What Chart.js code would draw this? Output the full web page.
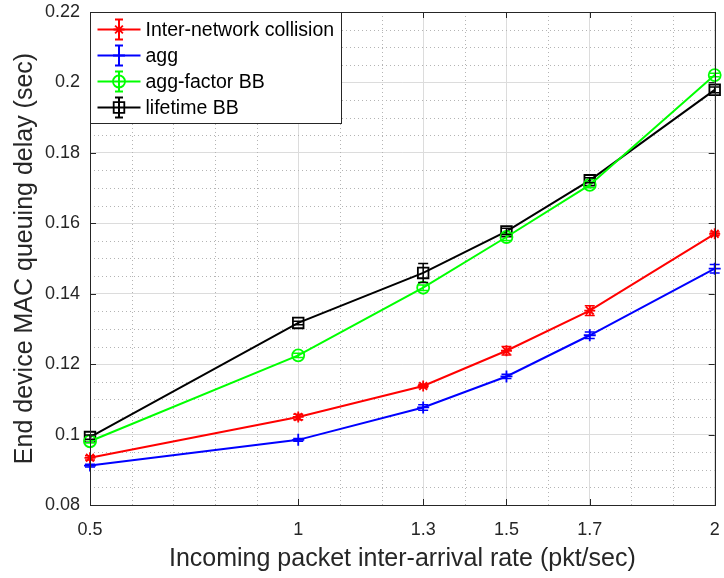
<!doctype html>
<html lang="en">
<head>
    <meta charset="utf-8">
    <title>MAC queuing delay</title>
    <script src="https://cdn.jsdelivr.net/npm/chart.js"></script>
    <style>
        body { margin: 0; background: #fff; }
        #wrap { width: 724px; height: 578px; }
    </style>
</head>
<body>
    <div id="wrap"><canvas id="myChart" width="724" height="578"></canvas></div>
    <script>
        // values
        var rates = [0.5, 1, 1.3, 1.5, 1.7, 2];
        var xTicks = [0.5, 1, 1.3, 1.5, 1.7, 2];
        var xMinor = [0.6, 0.7, 0.8, 0.9, 1.1, 1.2, 1.4, 1.6, 1.8, 1.9];
        var yMinorStep = 0.005;

        var collision = [0.0934, 0.1050, 0.1138, 0.1238, 0.1352, 0.1570];
        var collisionErr = [0.0006, 0.0008, 0.0005, 0.0012, 0.0014, 0.0005];

        var agg = [0.0912, 0.0985, 0.1077, 0.1165, 0.1282, 0.1471];
        var aggErr = [0.0004, 0.0004, 0.0008, 0.0006, 0.0009, 0.0012];

        var aggFactor = [0.0981, 0.1225, 0.1417, 0.1561, 0.1709, 0.2021];
        var aggFactorErr = [0.0004, 0.0006, 0.0008, 0.0010, 0.0008, 0.0005];

        var lifetime = [0.0993, 0.1317, 0.1459, 0.1577, 0.1722, 0.1979];
        var lifetimeErr = [0.0006, 0.0005, 0.0027, 0.0009, 0.0007, 0.0008];

        var seriesNames = ['Inter-network collision', 'agg', 'agg-factor BB', 'lifetime BB'];
        var seriesColors = ['#ff0000', '#0000ff', '#00ff00', '#000000'];
        var seriesMarkers = ['star', 'cross', 'circle', 'rect'];
        var markerSize = [5.5, 6, 6, 7.5];

        var FONT = "'Liberation Sans', Arial, sans-serif";
        Chart.defaults.font.family = FONT;
        Chart.defaults.color = '#262626';

        function toPoints(ys) {
            return rates.map((x, i) => ({ x: x, y: ys[i] }));
        }

        function makeSet(i, ys, errs) {
            return {
                label: seriesNames[i],
                data: toPoints(ys),
                errors: errs,
                borderColor: seriesColors[i],
                backgroundColor: seriesColors[i],
                borderWidth: 2,
                pointStyle: seriesMarkers[i],
                pointRadius: markerSize[i],
                pointBorderColor: seriesColors[i],
                pointBackgroundColor: 'rgba(0,0,0,0)',
                pointBorderWidth: 1.8,
                tension: 0,
                clip: false
            };
        }

        // small marker painter for the legend box
        function paintMarker(ctx, style, x, y, r) {
            ctx.beginPath();
            if (style === 'circle') {
                ctx.arc(x, y, r, 0, Math.PI * 2);
            } else if (style === 'rect') {
                var s = Math.SQRT1_2 * r;
                ctx.rect(x - s, y - s, 2 * s, 2 * s);
            } else if (style === 'cross') {
                ctx.moveTo(x - r, y); ctx.lineTo(x + r, y);
                ctx.moveTo(x, y - r); ctx.lineTo(x, y + r);
            } else {
                var d = r * Math.SQRT1_2;
                ctx.moveTo(x - r, y); ctx.lineTo(x + r, y);
                ctx.moveTo(x, y - r); ctx.lineTo(x, y + r);
                ctx.moveTo(x - d, y - d); ctx.lineTo(x + d, y + d);
                ctx.moveTo(x - d, y + d); ctx.lineTo(x + d, y - d);
            }
            ctx.stroke();
        }

        // dotted minor grid, under the data
        var minorGrid = {
            id: 'minorGrid',
            beforeDatasetsDraw(chart) {
                var ctx = chart.ctx, a = chart.chartArea;
                var xs = chart.scales.x, ys = chart.scales.y;
                ctx.save();
                ctx.strokeStyle = '#b4b4b4';
                ctx.lineWidth = 1;
                ctx.setLineDash([1, 3]);
                ctx.beginPath();
                xMinor.forEach(v => {
                    var px = Math.round(xs.getPixelForValue(v)) + 0.5;
                    ctx.moveTo(px, a.top); ctx.lineTo(px, a.bottom);
                });
                for (var v = ys.min + yMinorStep; v < ys.max - 1e-9; v += yMinorStep) {
                    var k = Math.round(v / yMinorStep);
                    if (k % 4 === 0) continue;
                    var py = Math.round(ys.getPixelForValue(v)) + 0.5;
                    ctx.moveTo(a.left, py); ctx.lineTo(a.right, py);
                }
                ctx.stroke();
                ctx.restore();
            }
        };

        var errorBars = {
            id: 'errorBars',
            afterDatasetsDraw(chart) {
                var ctx = chart.ctx;
                var ys = chart.scales.y;
                ctx.save();
                chart.data.datasets.forEach((ds, di) => {
                    var meta = chart.getDatasetMeta(di);
                    ctx.strokeStyle = ds.borderColor;
                    ctx.lineWidth = 1.5;
                    meta.data.forEach((pt, i) => {
                        var v = ds.data[i].y, e = ds.errors[i];
                        var top = ys.getPixelForValue(v + e);
                        var bot = ys.getPixelForValue(v - e);
                        ctx.beginPath();
                        ctx.moveTo(pt.x, top); ctx.lineTo(pt.x, bot);
                        ctx.moveTo(pt.x - 5, top); ctx.lineTo(pt.x + 5, top);
                        ctx.moveTo(pt.x - 5, bot); ctx.lineTo(pt.x + 5, bot);
                        ctx.stroke();
                    });
                });
                ctx.restore();
            }
        };

        // matlab style box, inward ticks and legend
        var axesBox = {
            id: 'axesBox',
            afterDraw(chart) {
                var ctx = chart.ctx;
                var a = chart.chartArea;
                var xs = chart.scales.x, ys = chart.scales.y;
                ctx.save();
                ctx.strokeStyle = '#262626';
                ctx.lineWidth = 1;
                ctx.beginPath();
                xs.ticks.forEach(t => {
                    var px = Math.round(xs.getPixelForValue(t.value)) + 0.5;
                    ctx.moveTo(px, a.bottom); ctx.lineTo(px, a.bottom - 6);
                    ctx.moveTo(px, a.top); ctx.lineTo(px, a.top + 6);
                });
                ys.ticks.forEach(t => {
                    var py = Math.round(ys.getPixelForValue(t.value)) + 0.5;
                    ctx.moveTo(a.left, py); ctx.lineTo(a.left + 6, py);
                    ctx.moveTo(a.right, py); ctx.lineTo(a.right - 6, py);
                });
                ctx.stroke();
                ctx.strokeRect(Math.round(a.left) + 0.5, Math.round(a.top) + 0.5,
                    Math.round(a.right - a.left), Math.round(a.bottom - a.top));

                // legend
                var lx = Math.round(a.left) + 0.5, ly = Math.round(a.top) + 0.5;
                var lw = 251, lh = 111;
                ctx.fillStyle = '#fff';
                ctx.fillRect(lx, ly, lw, lh);
                ctx.strokeStyle = '#262626';
                ctx.strokeRect(lx, ly, lw, lh);
                ctx.font = '19.5px ' + FONT;
                ctx.textBaseline = 'middle';
                ctx.textAlign = 'left';
                seriesNames.forEach((name, i) => {
                    var cy = ly + 17 + i * 26;
                    var x0 = lx + 7, x1 = lx + 50, cx = (x0 + x1) / 2;
                    ctx.strokeStyle = seriesColors[i];
                    ctx.lineWidth = 2;
                    ctx.beginPath();
                    ctx.moveTo(x0, cy); ctx.lineTo(x1, cy);
                    ctx.moveTo(cx, cy - 10); ctx.lineTo(cx, cy + 10);
                    ctx.moveTo(cx - 4, cy - 10); ctx.lineTo(cx + 4, cy - 10);
                    ctx.moveTo(cx - 4, cy + 10); ctx.lineTo(cx + 4, cy + 10);
                    ctx.stroke();
                    ctx.lineWidth = 1.8;
                    paintMarker(ctx, seriesMarkers[i], cx, cy, markerSize[i]);
                    ctx.fillStyle = '#000';
                    ctx.fillText(name, lx + 55, cy + 1);
                });
                ctx.restore();
            }
        };

        new Chart('myChart', {
            type: 'line',
            data: {
                datasets: [
                    makeSet(0, collision, collisionErr),
                    makeSet(1, agg, aggErr),
                    makeSet(2, aggFactor, aggFactorErr),
                    makeSet(3, lifetime, lifetimeErr)
                ]
            },
            options: {
                responsive: false,
                animation: false,
                layout: { padding: { left: 0, top: 12, right: 6, bottom: 0 } },
                plugins: { legend: { display: false }, tooltip: { enabled: false } },
                scales: {
                    x: {
                        type: 'linear', position: 'bottom', min: 0.5, max: 2,
                        afterBuildTicks: s => { s.ticks = xTicks.map(v => ({ value: v })); },
                        ticks: {
                            font: { size: 18 }, padding: 14, color: '#262626', maxRotation: 0,
                            callback: v => String(parseFloat(v.toFixed(2)))
                        },
                        grid: { color: '#dcdcdc', drawTicks: false },
                        border: { display: true, color: '#262626' },
                        title: {
                            display: true, text: 'Incoming packet inter-arrival rate (pkt/sec)',
                            font: { size: 25 }, color: '#262626', padding: { top: 0, bottom: 4 }
                        },
                        afterFit: s => { s.height = 73; s.paddingLeft = 0; s.paddingRight = 0; }
                    },
                    y: {
                        type: 'linear', position: 'left', min: 0.08, max: 0.22,
                        ticks: {
                            stepSize: 0.02, font: { size: 18 }, padding: 10, color: '#262626',
                            callback: v => String(parseFloat(v.toFixed(2)))
                        },
                        grid: { color: '#dcdcdc', drawTicks: false },
                        border: { display: true, color: '#262626' },
                        title: {
                            display: true, text: 'End device MAC queuing delay (sec)',
                            font: { size: 25 }, color: '#262626', padding: { top: 10, bottom: 0 }
                        },
                        afterFit: s => { s.width = 90; s.paddingTop = 0; s.paddingBottom = 0; }
                    }
                }
            },
            plugins: [minorGrid, errorBars, axesBox]
        });
    </script>
</body>
</html>
